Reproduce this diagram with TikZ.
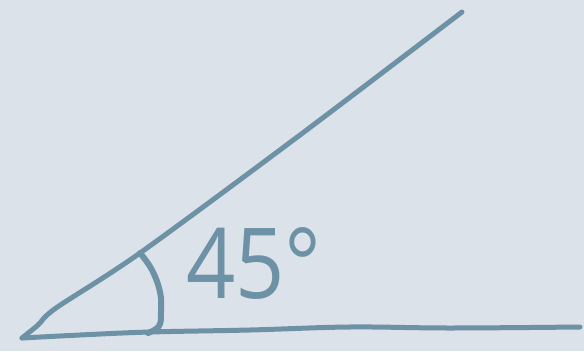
\documentclass[tikz,border=0pt]{standalone}
\usepackage{fontspec}
\setmainfont{Open Sans}
\definecolor{bg}{HTML}{DCE2E9}
\definecolor{ink}{HTML}{6E92A5}
\begin{document}
\begin{tikzpicture}[x=1pt,y=-1pt,
  pen/.style={draw=ink,line width=5pt,line cap=round,line join=round},
  label/.style={text=ink,font=\fontsize{98}{98}\selectfont,inner sep=0pt,anchor=base west}]
\fill[bg] (0,0) rectangle (584,351);
\useasboundingbox (0,0) rectangle (584,351);
% bottom ray
\draw[pen] plot[smooth,tension=0.6] coordinates {(22,338) (80,335) (150,332) (250,330) (350,327) (450,328) (580,327)};
% upper ray
\draw[pen] plot[smooth,tension=0.5] coordinates {(22,338) (38,325) (56,308) (140,253) (300,135) (462,12)};
% angle arc
\draw[pen,line width=6pt] plot[smooth,tension=0.7] coordinates {(140,253) (152,270) (160,292) (161,312) (159,326) (148,333)};
% label
\node[label,xscale=0.88] (deg) at (186,298) {45°};
\end{tikzpicture}
\end{document}
